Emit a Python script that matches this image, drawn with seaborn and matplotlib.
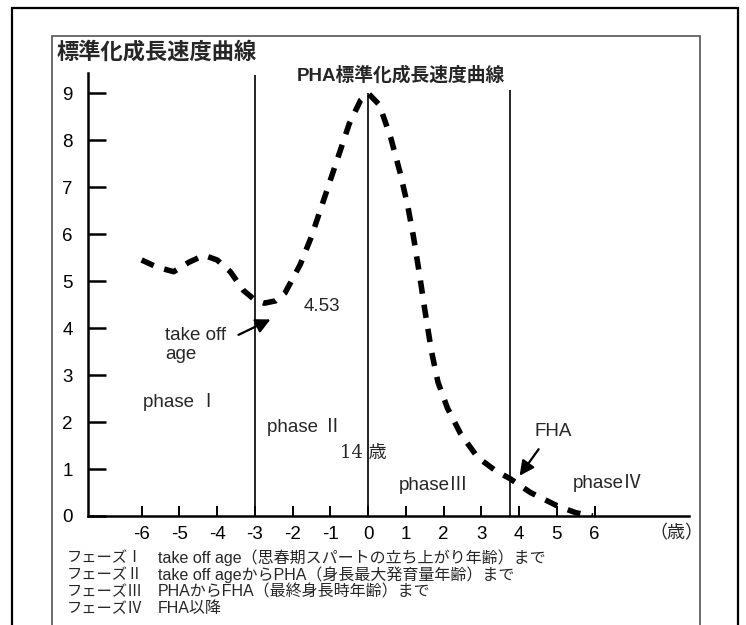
import numpy as np
import pandas as pd
import seaborn as sns
from matplotlib import pyplot as plt
from matplotlib.patches import Rectangle

sns.set_style('white')
plt.rcParams['font.family'] = ['Liberation Sans', 'Noto Sans CJK JP', 'DejaVu Sans']
plt.rcParams['axes.unicode_minus'] = False

# curve (years from PHA, standardised velocity)
age = [-6.0, -5.6, -5.15, -4.75, -4.35, -4.0, -3.65, -3.3, -3.0, -2.75, -2.45,
       -2.2, -1.8, -1.5, -1.25, -1.0, -0.75, -0.5, -0.2, 0.0, 0.3, 0.6, 0.85,
       1.05, 1.2, 1.35, 1.5, 1.68, 1.85, 2.1, 2.45, 2.9, 3.4, 3.75, 4.3, 5.0,
       5.5, 5.95]
velocity = [5.45, 5.3, 5.2, 5.4, 5.55, 5.45, 5.2, 4.8, 4.6, 4.53, 4.58,
            4.75, 5.35, 5.95, 6.55, 7.15, 7.75, 8.35, 8.85, 9.0, 8.75, 8.05, 7.3,
            6.6, 5.95, 5.2, 4.4, 3.5, 2.85, 2.3, 1.75, 1.25, 0.95, 0.8, 0.5, 0.22,
            0.07, 0.0]

boundaries = [-3.0, 0.0, 3.75]          # take off age, PHA, FHA
boundary_tops = [9.38, 9.0, 9.06]

xticks = [-6, -5, -4, -3, -2, -1, 0, 1, 2, 3, 4, 5, 6]
yticks = [0, 1, 2, 3, 4, 5, 6, 7, 8, 9]

phase_labels = ['phase Ⅰ', 'phase Ⅱ', 'phaseⅢ', 'phaseⅣ']
phase_x = [-5.96, -2.68, 0.82, 5.43]
phase_y = [2.43, 1.9, 0.66, 0.7]

notes_head = ['フェーズⅠ', 'フェーズⅡ', 'フェーズⅢ', 'フェーズⅣ']
notes_body = ['take off age（思春期スパートの立ち上がり年齢）まで',
              'take off ageからPHA（身長最大発育量年齢）まで',
              'PHAからFHA（最終身長時年齢）まで',
              'FHA以降']

df = pd.DataFrame({'age': age, 'velocity': velocity})

W, H = 746, 625
fig = plt.figure(figsize=(W / 100, H / 100), dpi=100)
ax = fig.add_axes([88 / W, 1 - 516 / H, (689 - 88) / W, (516 - 73) / H])

sns.lineplot(data=df, x='age', y='velocity', ax=ax, color='black', lw=4,
             linestyle=(0, (2.4, 2.0)), sort=False)
for ln in ax.lines:
    ln.set_dash_capstyle('butt')

ax.vlines(boundaries, 0, boundary_tops, color='black', lw=1.2)

ax.set_xlim(-7.42, 8.5)
ax.set_ylim(0, 9.43)
ax.set_xlabel('')
ax.set_ylabel('')
sns.despine(ax=ax)
for s in ['left', 'bottom']:
    ax.spines[s].set_linewidth(1.8)
    ax.spines[s].set_color('black')

ax.set_xticks(xticks)
ax.set_yticks(yticks)
ax.tick_params(axis='y', left=True, direction='in', length=13, width=1.8,
               pad=11, labelsize=13.5, colors='black')
ax.tick_params(axis='x', bottom=True, direction='in', length=7, width=1.4,
               pad=7, labelsize=13.5, colors='black')

# annotations
fs = 13.5
ax.text(-1.22, 4.45, '4.53', fontsize=fs, ha='center', va='center')
ax.text(-5.38, 3.63, 'take off\nage', fontsize=fs, ha='left', va='center',
        linespacing=1.15)
ax.annotate('', xy=(-2.52, 4.21), xytext=(-3.5, 3.83),
            arrowprops=dict(arrowstyle='-|>', color='black', lw=1.6,
                            mutation_scale=22))
ax.text(4.42, 1.79, 'FHA', fontsize=fs, ha='left', va='center')
ax.annotate('', xy=(3.97, 0.81), xytext=(4.56, 1.47),
            arrowprops=dict(arrowstyle='-|>', color='black', lw=1.6,
                            mutation_scale=22))
for lab, px, py in zip(phase_labels, phase_x, phase_y):
    ax.text(px, py, lab, fontsize=fs, ha='left', va='center',
            family=['Liberation Sans', 'Noto Sans CJK JP'])
ax.text(-0.74, 1.34, '14 歳', fontsize=13, ha='left', va='center',
        family=['DejaVu Serif', 'Noto Sans CJK JP'])
ax.text(7.45, -0.36, '（歳）', fontsize=13, ha='left', va='center',
        family=['Noto Sans CJK JP'], clip_on=False)

# titles
fig.text(57 / W, 1 - 52 / H, '標準化成長速度曲線', fontsize=16,
         fontweight='bold', ha='left', va='center', family=['Noto Sans CJK JP'])
fig.text(401 / W, 1 - 75 / H, 'PHA標準化成長速度曲線', fontsize=13.5,
         fontweight='bold', ha='center', va='center',
         family=['Liberation Sans', 'Noto Sans CJK JP'])

# footnotes
for i, (h, b) in enumerate(zip(notes_head, notes_body)):
    yy = 1 - (558 + 16.7 * i) / H
    fig.text(67 / W, yy, h, fontsize=11, ha='left', va='center',
             family=['Noto Sans CJK JP'])
    fig.text(158 / W, yy, b, fontsize=11.5, ha='left', va='center',
             family=['Liberation Sans', 'Noto Sans CJK JP'])

# scanned page frames
fig.patches.append(Rectangle((12 / W, -0.05), (738 - 12) / W, 1.05 - 8 / H,
                             transform=fig.transFigure, fill=False,
                             ec='black', lw=1.6))
fig.patches.append(Rectangle((52 / W, -0.05), (700 - 52) / W, 1.05 - 36 / H,
                             transform=fig.transFigure, fill=False,
                             ec='#555555', lw=1.2))

fig.savefig('out.png', dpi=100)
